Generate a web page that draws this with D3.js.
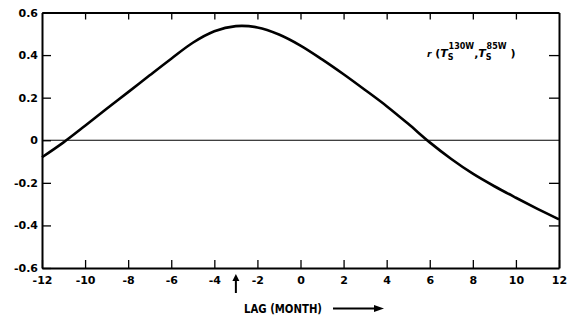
<!DOCTYPE html>
<html>
<head>
<meta charset="utf-8">
<script src="https://cdn.jsdelivr.net/npm/d3@7"></script>
<style>
  html, body { margin: 0; padding: 0; background: #fff; }
  svg { display: block; }
  text { font-family: "DejaVu Sans", "Liberation Sans", sans-serif; font-weight: bold; fill: #000; }
</style>
</head>
<body>
<svg id="chart" width="568" height="321"></svg>
<script>
// Lag in months and the lagged correlation r(Ts 130W, Ts 85W)
const lags = [-12, -11, -10, -9, -8, -7, -6, -5, -4, -3, -2, -1, 0, 1, 2, 3, 4, 5, 6, 7, 8, 9, 10, 11, 12];
const corr = [-0.08, -0.01, 0.068, 0.148, 0.226, 0.305, 0.383, 0.458, 0.512, 0.536, 0.53, 0.497, 0.445,
              0.38, 0.31, 0.236, 0.16, 0.077, -0.01, -0.088, -0.157, -0.216, -0.27, -0.322, -0.372];
const xTicks = [-12, -10, -8, -6, -4, -2, 0, 2, 4, 6, 8, 10, 12];
const yTicks = [-0.6, -0.4, -0.2, 0, 0.2, 0.4, 0.6];
const peakLag = -3;

const svg = d3.select("#chart");
const m = { left: 42, right: 559, top: 12.5, bottom: 268 };

const x = d3.scaleLinear().domain([-12, 12]).range([m.left, m.right]);
const y = d3.scaleLinear().domain([-0.6, 0.6]).range([m.bottom, m.top]);

const fmtX = d => (d < 0 ? "-" : "") + Math.abs(d);
const fmtY = d => d === 0 ? "0" : (d < 0 ? "-" : "") + Math.abs(d).toFixed(1);

// Axes with inward-pointing ticks
const axisBottom = d3.axisBottom(x).tickValues(xTicks).tickSizeInner(-8).tickSizeOuter(0).tickPadding(8).tickFormat(fmtX);
const axisTop = d3.axisTop(x).tickValues(xTicks.slice(1, -1)).tickSizeInner(-7).tickSizeOuter(0).tickFormat("");
const axisLeft = d3.axisLeft(y).tickValues(yTicks).tickSizeInner(-9).tickSizeOuter(0).tickPadding(4).tickFormat(fmtY);
const axisRight = d3.axisRight(y).tickValues(yTicks.filter(d => Math.abs(d) < 0.6 && d !== 0)).tickSizeInner(-10).tickSizeOuter(0).tickFormat("");

function style(g) {
  g.select(".domain").attr("stroke", "#000").attr("stroke-width", 2);
  g.selectAll(".tick line").attr("stroke", "#000").attr("stroke-width", 1.3);
  g.selectAll(".tick text").attr("font-size", 11)
    .attr("font-family", "DejaVu Sans, Liberation Sans, sans-serif").attr("font-weight", "bold");
}

svg.append("g").attr("transform", `translate(0,${m.bottom})`).call(axisBottom).call(style);
svg.append("g").attr("transform", `translate(0,${m.top})`).call(axisTop).call(style);
svg.append("g").attr("transform", `translate(${m.left},0)`).call(axisLeft).call(style);
svg.append("g").attr("transform", `translate(${m.right},0)`).call(axisRight).call(style);

// Zero reference line
svg.append("line")
  .attr("x1", x(-12)).attr("x2", x(12))
  .attr("y1", y(0)).attr("y2", y(0))
  .attr("stroke", "#000").attr("stroke-width", 1.2);

// Correlation curve
const line = d3.line().x((d, i) => x(lags[i])).y(d => y(d)).curve(d3.curveCatmullRom.alpha(0.5));
svg.append("path")
  .datum(corr)
  .attr("d", line)
  .attr("fill", "none")
  .attr("stroke", "#000")
  .attr("stroke-width", 2.6);

// Series label r(Ts^130W, Ts^85W)
const lab = svg.append("text").attr("x", 427).attr("y", 57).attr("font-size", 11);
lab.append("tspan").attr("font-style", "italic").attr("font-size", 9).text("r");
lab.append("tspan").text(" (");
lab.append("tspan").attr("font-style", "italic").text("T");
lab.append("tspan").attr("font-size", 8).attr("dy", 3).text("S");
lab.append("tspan").attr("font-size", 8).attr("dx", -5).attr("dy", -11).text("130W");
lab.append("tspan").attr("dy", 8).text(",");
lab.append("tspan").attr("font-style", "italic").text("T");
lab.append("tspan").attr("font-size", 8).attr("dy", 3).text("S");
lab.append("tspan").attr("font-size", 8).attr("dx", -5).attr("dy", -11).text("85W");
lab.append("tspan").attr("dy", 8).text(" )");

// Arrow marking the lag of maximum correlation
const ax = x(peakLag);
svg.append("line").attr("x1", ax).attr("x2", ax).attr("y1", 293).attr("y2", 279)
  .attr("stroke", "#000").attr("stroke-width", 2);
svg.append("path")
  .attr("d", `M${ax - 3.5},${281} L${ax},${274} L${ax + 3.5},${281} Z`)
  .attr("fill", "#000");

// Axis title with arrow
svg.append("text").attr("x", 244).attr("y", 313).attr("font-size", 11.5)
  .attr("textLength", 78).attr("lengthAdjust", "spacingAndGlyphs").text("LAG (MONTH)");
svg.append("line").attr("x1", 333).attr("x2", 378).attr("y1", 308.5).attr("y2", 308.5)
  .attr("stroke", "#000").attr("stroke-width", 2);
svg.append("path")
  .attr("d", "M374,305 L384,308.5 L374,312 Z")
  .attr("fill", "#000");
</script>
</body>
</html>
